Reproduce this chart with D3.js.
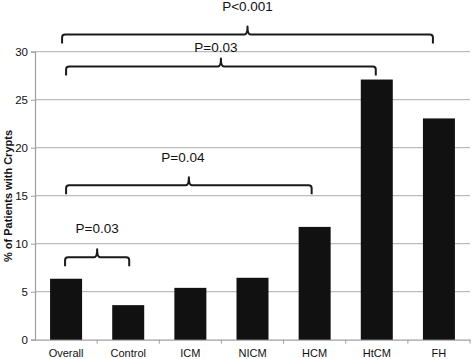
<!DOCTYPE html>
<html>
<head>
<meta charset="utf-8">
<script src="https://cdn.jsdelivr.net/npm/d3@7"></script>
<style>
  html, body { margin: 0; padding: 0; background: #fff; }
  svg { display: block; font-family: "Liberation Sans", Arial, sans-serif; }
</style>
</head>
<body>
<svg id="chart" width="472" height="359"></svg>
<script>
// ---- data ----
const categories = ["Overall", "Control", "ICM", "NICM", "HCM", "HtCM", "FH"];
const values = [6.35, 3.6, 5.4, 6.45, 11.75, 27.1, 23.05];
const yTicks = [0, 5, 10, 15, 20, 25, 30];
const yTitle = "% of Patients with Crypts";
// significance brackets: from category, to category, bracket level (y units), label
const bracketFrom = ["Overall", "Overall", "Overall", "Overall"];
const bracketTo = ["FH", "HtCM", "HCM", "Control"];
const bracketLevel = [31.8, 28.45, 16.1, 8.6];
const bracketLabel = ["P<0.001", "P=0.03", "P=0.04", "P=0.03"];

// ---- layout ----
const svg = d3.select("#chart");
const margin = { left: 35, right: 2, top: 52, bottom: 19 };
const W = 472, H = 359;
const x = d3.scaleBand().domain(categories).range([margin.left, W - margin.right]).paddingInner(0.485).paddingOuter(0.2425);
const xb = d3.scaleBand().domain(categories).range([margin.left, W - margin.right]);
const y = d3.scaleLinear().domain([0, 30]).range([H - margin.bottom - 0.3, margin.top - 0.3]);

// gridlines
svg.append("g").selectAll("line").data(yTicks.filter(d => d > 0)).join("line")
  .attr("x1", margin.left).attr("x2", W - margin.right)
  .attr("y1", d => y(d)).attr("y2", d => y(d))
  .attr("stroke", "#bdbdbd").attr("stroke-width", 1.2);

// y axis
const yAxis = svg.append("g").attr("transform", `translate(${margin.left},0)`)
  .call(d3.axisLeft(y).tickValues(yTicks).tickSize(4).tickPadding(3));
yAxis.select(".domain").attr("stroke", "#a0a0a0").attr("stroke-width", 1.2);
yAxis.selectAll(".tick line").attr("stroke", "#a0a0a0");
yAxis.selectAll("text").attr("font-size", "11.5px").attr("fill", "#111")
  .attr("font-family", "'Liberation Sans', Arial, sans-serif");

// x axis
const xAxis = svg.append("g").attr("transform", `translate(0,${y(0)})`)
  .call(d3.axisBottom(xb).tickSize(0).tickPadding(10));
xAxis.select(".domain").attr("stroke", "#a0a0a0").attr("stroke-width", 1.2);
xAxis.selectAll("text").attr("font-size", "11px").attr("fill", "#111")
  .attr("font-family", "'Liberation Sans', Arial, sans-serif");
// boundary ticks
svg.append("g").selectAll("line").data(categories.slice(1).concat(["__end"])).join("line")
  .attr("x1", d => d === "__end" ? W - margin.right : xb(d))
  .attr("x2", d => d === "__end" ? W - margin.right : xb(d))
  .attr("y1", y(0)).attr("y2", y(0) + 4)
  .attr("stroke", "#a0a0a0").attr("stroke-width", 1);

// bars
svg.append("g").selectAll("rect").data(categories).join("rect")
  .attr("x", d => x(d)).attr("width", x.bandwidth())
  .attr("y", (d, i) => y(values[i])).attr("height", (d, i) => y(0) - y(values[i]))
  .attr("fill", "#111");

// y title
svg.append("text")
  .attr("transform", `translate(12,${196}) rotate(-90)`)
  .attr("text-anchor", "middle").attr("font-size", "11px").attr("font-weight", "bold")
  .attr("fill", "#111").text(yTitle);

// brackets
const hook = 9, r = 3, peak = 8;
const endAdj = [[-4, -6], [0, -1], [0, -3], [-1, 1]];
const labelGap = [23, 15, 23, 24];
const labelDx = [0, -5, -6, 0];
const g = svg.append("g");
bracketLabel.forEach((lab, i) => {
  const x1 = xb(bracketFrom[i]) + xb.bandwidth() / 2 + endAdj[i][0];
  const x2 = xb(bracketTo[i]) + xb.bandwidth() / 2 + endAdj[i][1];
  const yl = y(bracketLevel[i]);
  const xm = (x1 + x2) / 2;
  const p = d3.path();
  p.moveTo(x1, yl + hook);
  p.lineTo(x1, yl + r);
  p.quadraticCurveTo(x1, yl, x1 + r, yl);
  p.lineTo(xm - 3, yl);
  p.quadraticCurveTo(xm, yl, xm, yl - peak);
  p.quadraticCurveTo(xm, yl, xm + 3, yl);
  p.lineTo(x2 - r, yl);
  p.quadraticCurveTo(x2, yl, x2, yl + r);
  p.lineTo(x2, yl + hook);
  g.append("path").attr("d", p.toString()).attr("fill", "none")
    .attr("stroke", "#1a1a1a").attr("stroke-width", 2).attr("stroke-linejoin", "round");
  g.append("text").attr("x", xm + labelDx[i]).attr("y", yl - labelGap[i])
    .attr("text-anchor", "middle").attr("font-size", "13.5px").attr("fill", "#111").text(lab);
});
</script>
</body>
</html>
